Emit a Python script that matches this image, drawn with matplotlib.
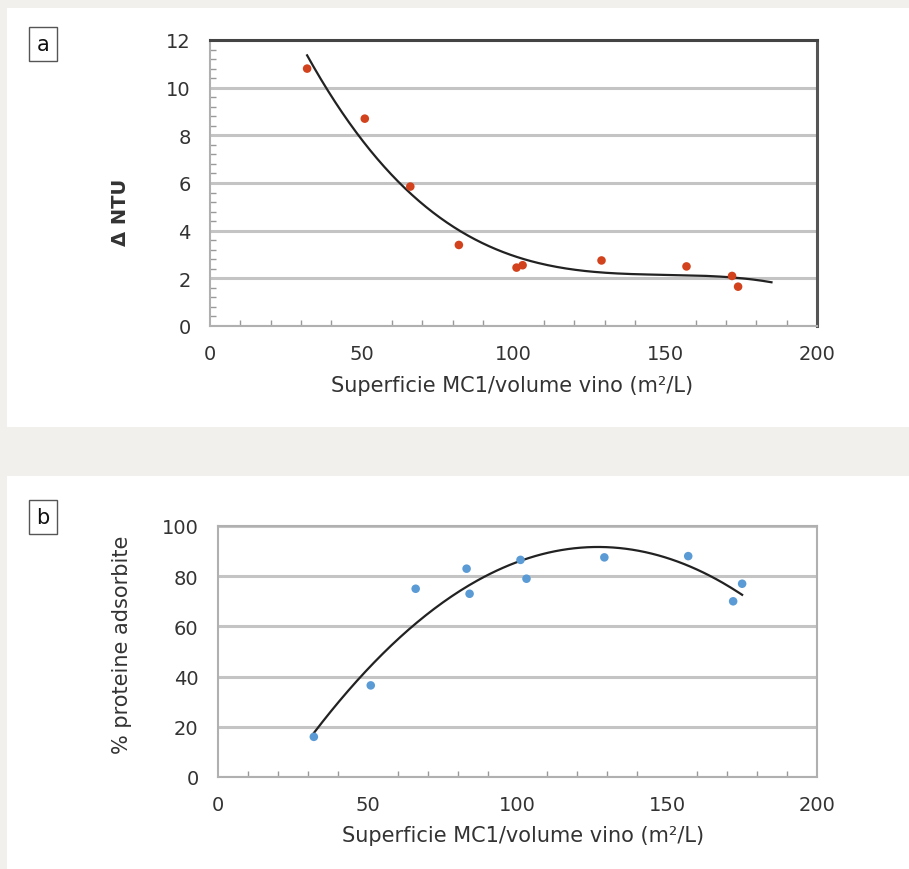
import numpy as np
import matplotlib
matplotlib.use('Agg')
import matplotlib.pyplot as plt
from matplotlib.patches import Rectangle
from matplotlib.ticker import MultipleLocator

# panel a: turbidity vs surface/volume
x_a = [32, 51, 66, 82, 101, 103, 129, 157, 172, 174]
y_a = [10.8, 8.7, 5.85, 3.4, 2.45, 2.55, 2.75, 2.5, 2.1, 1.65]

# panel b: adsorbed proteins vs surface/volume
x_b = [32, 51, 66, 83, 84, 101, 103, 129, 157, 172, 175]
y_b = [16, 36.5, 75, 83, 73, 86.5, 79, 87.5, 88, 70, 77]

xlabel = 'Superficie MC1/volume vino (m²/L)'
ylabel_a = 'Δ NTU'
ylabel_b = '% proteine adsorbite'

plt.rcParams['font.family'] = ['DejaVu Sans']
txt_col = '#333333'

fig = plt.figure(figsize=(9.09, 8.7), dpi=100)
fig.patch.set_facecolor('#f1f0ec')

# white panels behind each chart
fig.add_artist(Rectangle((7 / 909, 1 - 428 / 870), 1, (428 - 9) / 870,
                         transform=fig.transFigure, facecolor='white', edgecolor='none', zorder=0))
fig.add_artist(Rectangle((7 / 909, 0), 1, (870 - 477) / 870,
                         transform=fig.transFigure, facecolor='white', edgecolor='none', zorder=0))

# panel letters
for lab, ytop in [('a', 30), ('b', 503)]:
    fig.text(43 / 909, 1 - (ytop + 15) / 870, lab, ha='center', va='center', fontsize=15,
             color='#111111',
             bbox=dict(boxstyle='square,pad=0.35', facecolor='white', edgecolor='#555555', lw=1))


def style_axis(ax, spine_dark):
    ax.set_xlim(0, 200)
    ax.xaxis.set_major_locator(MultipleLocator(50))
    ax.xaxis.set_minor_locator(MultipleLocator(10))
    ax.yaxis.grid(True, color='#c4c4c4', lw=2.2)
    ax.set_axisbelow(True)
    ax.tick_params(which='major', length=0, labelsize=14, colors=txt_col)
    ax.tick_params(axis='x', which='major', pad=13)
    ax.tick_params(axis='y', which='major', pad=14)
    ax.tick_params(which='minor', direction='in', length=4, color='#999999', width=1)
    for s in ax.spines.values():
        s.set_color('#b0b0b0')
        s.set_linewidth(1.5)
    if spine_dark:
        ax.spines['top'].set_color('#444444')
        ax.spines['right'].set_color('#555555')
        ax.spines['top'].set_linewidth(2.2)
        ax.spines['right'].set_linewidth(2.2)
    ax.set_xlabel(xlabel, fontsize=15, color=txt_col)


# panel a
ax1 = fig.add_axes([210 / 909, 1 - 327 / 870, 607 / 909, 286 / 870])
style_axis(ax1, True)
ax1.set_ylim(0, 12)
ax1.yaxis.set_major_locator(MultipleLocator(2))
ax1.yaxis.set_minor_locator(MultipleLocator(0.4))
ax1.tick_params(axis='x', which='minor', bottom=True)
ax1.tick_params(axis='y', which='minor', left=True)
ax1.set_ylabel(ylabel_a, fontsize=14, fontweight='bold', color=txt_col)
ax1.yaxis.set_label_coords(-0.132, 0.40)
ax1.xaxis.set_label_coords(0.498, -0.172)
c_a = np.polyfit(x_a, y_a, 3)
xx = np.linspace(32, 185, 200)
ax1.plot(xx, np.polyval(c_a, xx), color='#222222', lw=1.6, zorder=3)
ax1.scatter(x_a, y_a, s=38, color='#d2421c', zorder=4, edgecolors='none')

# panel b
ax2 = fig.add_axes([218 / 909, 1 - 778 / 870, 599 / 909, 251 / 870])
style_axis(ax2, False)
ax2.set_ylim(0, 100)
ax2.yaxis.set_major_locator(MultipleLocator(20))
ax2.tick_params(axis='y', which='minor', left=False)
ax2.set_ylabel(ylabel_b, fontsize=15, color=txt_col)
ax2.yaxis.set_label_coords(-0.144, 0.53)
ax2.xaxis.set_label_coords(0.509, -0.191)
c_b = np.polyfit(x_b, y_b, 2)
xx = np.linspace(32, 175, 200)
ax2.plot(xx, np.polyval(c_b, xx), color='#222222', lw=1.6, zorder=3)
ax2.scatter(x_b, y_b, s=38, color='#5b9bd5', zorder=4, edgecolors='none')

fig.savefig('out.png', dpi=100, facecolor=fig.get_facecolor())
